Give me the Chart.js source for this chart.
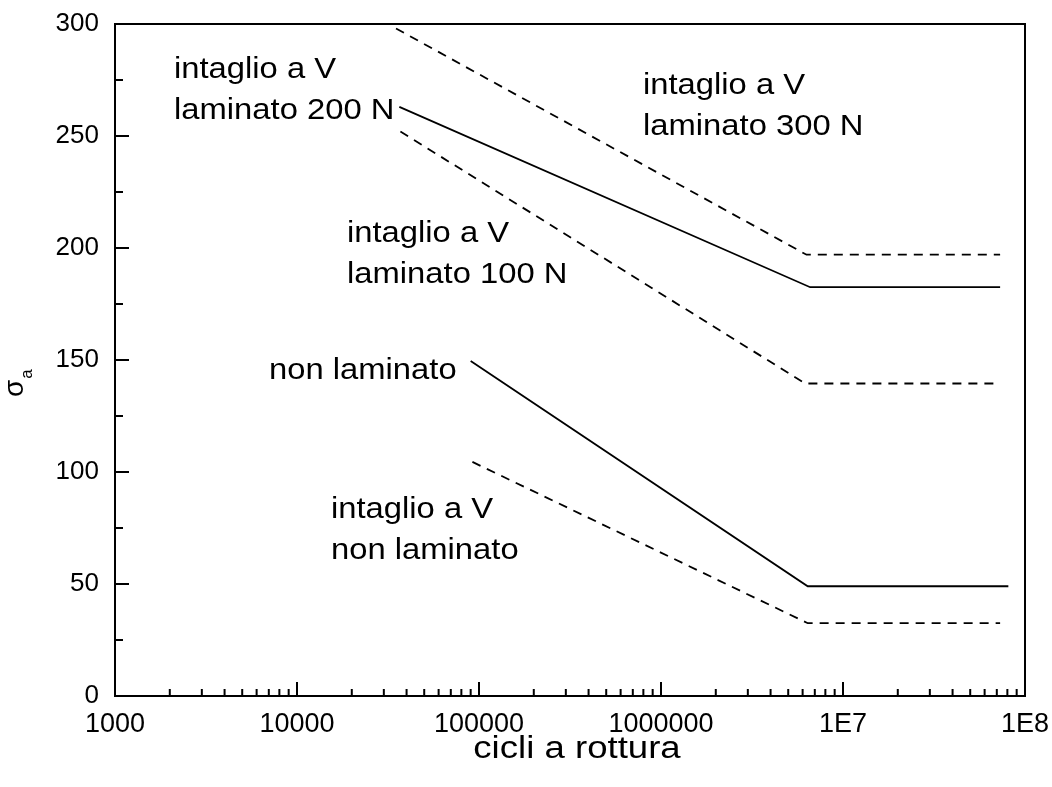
<!DOCTYPE html>
<html>
<head>
<meta charset="utf-8">
<script src="https://cdn.jsdelivr.net/npm/chart.js@4/dist/chart.umd.min.js"></script>
<style>
  body { margin: 0; background: #fff; }
  canvas { display: block; }
</style>
</head>
<body>
<canvas id="wohlerCanvas" width="1052" height="787"></canvas>
<script>
// cicli (x) e sigma_a (y) per ogni curva
const cicli300N = [35000, 6.3e6, 7.3e7];
const sigma300N = [298, 197, 197];
const cicli200N = [36500, 6.6e6, 7.3e7];
const sigma200N = [263, 182.5, 182.5];
const cicli100N = [37000, 6.2e6, 7.3e7];
const sigma100N = [252, 139.5, 139.5];
const cicliNonLam = [90000, 6.4e6, 8.1e7];
const sigmaNonLam = [149.5, 49, 49];
const cicliVNonLam = [92000, 6.4e6, 7.3e7];
const sigmaVNonLam = [104.5, 32.5, 32.5];

const xTicks = [1000, 10000, 100000, 1000000, 1e7, 1e8];
const xTickLabels = ["1000", "10000", "100000", "1000000", "1E7", "1E8"];
const yTicks = [0, 50, 100, 150, 200, 250, 300];

const labels = [
    { lines: ["intaglio a V", "laminato 200 N"], x: 174, y: 78 },
    { lines: ["intaglio a V", "laminato 300 N"], x: 643, y: 94 },
    { lines: ["intaglio a V", "laminato 100 N"], x: 347, y: 242 },
    { lines: ["non laminato"], x: 269, y: 379 },
    { lines: ["intaglio a V", "non laminato"], x: 331, y: 518 },
];

const FONT = '"Liberation Sans", Arial, sans-serif';

function pts(xs, ys) {
    return xs.map((x, i) => ({ x: x, y: ys[i] }));
}

function serie(xs, ys, dashed) {
    return {
        data: pts(xs, ys),
        borderColor: "#000",
        borderWidth: 1.8,
        borderDash: dashed ? [9, 7] : [],
        pointRadius: 0,
        tension: 0,
        fill: false,
    };
}

const framePlugin = {
    id: "frame",
    afterDraw(chart) {
        const ctx = chart.ctx;
        const a = chart.chartArea;
        const xs = chart.scales.x;
        const ys = chart.scales.y;
        ctx.save();
        ctx.strokeStyle = "#000";
        ctx.lineWidth = 2;
        ctx.strokeRect(a.left, a.top, a.right - a.left, a.bottom - a.top);

        // tacche interne asse x (log)
        ctx.beginPath();
        for (let d = 1000; d < 1e8; d *= 10) {
            for (let m = 1; m <= 10; m++) {
                const px = xs.getPixelForValue(d * m);
                const len = (m === 1 || m === 10) ? 14 : 7;
                ctx.moveTo(px, a.bottom);
                ctx.lineTo(px, a.bottom - len);
            }
        }
        // tacche interne asse y
        for (let v = 0; v <= 300; v += 25) {
            const py = ys.getPixelForValue(v);
            const len = v % 50 === 0 ? 14 : 8;
            ctx.moveTo(a.left, py);
            ctx.lineTo(a.left + len, py);
        }
        ctx.stroke();

        // etichette delle curve
        ctx.fillStyle = "#000";
        ctx.textBaseline = "alphabetic";
        ctx.textAlign = "left";
        ctx.font = "29px " + FONT;
        labels.forEach(l => {
            l.lines.forEach((t, i) => {
                ctx.save();
                ctx.translate(l.x, l.y + i * 41);
                ctx.scale(1.13, 1);
                ctx.fillText(t, 0, 0);
                ctx.restore();
            });
        });

        // titolo asse x
        ctx.save();
        ctx.translate(577, 758);
        ctx.scale(1.18, 1);
        ctx.textAlign = "center";
        ctx.font = "31px " + FONT;
        ctx.fillText("cicli a rottura", 0, 0);
        ctx.restore();

        // titolo asse y: sigma con pedice a
        ctx.save();
        ctx.translate(23, 397);
        ctx.rotate(-Math.PI / 2);
        ctx.font = "28px " + FONT;
        ctx.fillText("σ", 0, 0);
        const w = ctx.measureText("σ").width;
        ctx.font = "17px " + FONT;
        ctx.fillText("a", w + 1, 9);
        ctx.restore();
        ctx.restore();
    }
};

const wohlerCanvas = document.getElementById("wohlerCanvas");

const wohlerChart = new Chart(wohlerCanvas, {
    type: "line",
    data: {
        datasets: [
            serie(cicli300N, sigma300N, true),
            serie(cicli200N, sigma200N, false),
            serie(cicli100N, sigma100N, true),
            serie(cicliNonLam, sigmaNonLam, false),
            serie(cicliVNonLam, sigmaVNonLam, true),
        ]
    },
    options: {
        responsive: false,
        animation: false,
        devicePixelRatio: 1,
        layout: { padding: { top: 24, right: 27, left: 0, bottom: 0 } },
        plugins: {
            legend: { display: false },
            tooltip: { enabled: false },
        },
        scales: {
            x: {
                type: "logarithmic",
                min: 1000,
                max: 1e8,
                afterBuildTicks(scale) {
                    scale.ticks = xTicks.map(v => ({ value: v }));
                },
                afterFit(scale) {
                    scale.height = 91;
                    scale.paddingLeft = 0;
                    scale.paddingRight = 0;
                },
                grid: { display: false, drawTicks: false },
                border: { display: false },
                ticks: {
                    color: "#000",
                    font: { family: FONT, size: 27 },
                    padding: 12,
                    maxRotation: 0,
                    autoSkip: false,
                    callback: (v) => xTickLabels[xTicks.indexOf(v)],
                },
            },
            y: {
                min: 0,
                max: 300,
                afterBuildTicks(scale) {
                    scale.ticks = yTicks.map(v => ({ value: v }));
                },
                afterFit(scale) {
                    scale.width = 115;
                    scale.paddingTop = 0;
                    scale.paddingBottom = 0;
                },
                grid: { display: false, drawTicks: false },
                border: { display: false },
                ticks: {
                    color: "#000",
                    font: { family: FONT, size: 26 },
                    padding: 16,
                },
            },
        },
    },
    plugins: [framePlugin],
});
</script>
</body>
</html>
